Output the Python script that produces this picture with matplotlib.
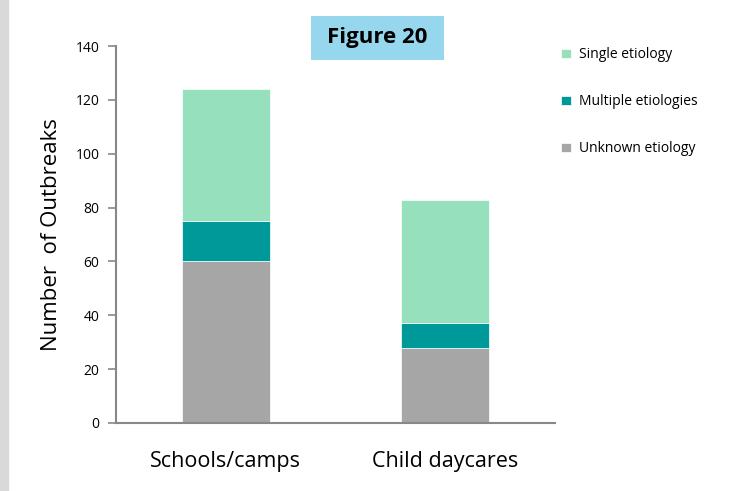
import matplotlib
matplotlib.use("Agg")
import matplotlib.pyplot as plt
from matplotlib.patches import Rectangle

categories = ["Schools/camps", "Child daycares"]
unknown = [60, 28]
multiple = [15, 9]
single = [49, 46]
yticks = [0, 20, 40, 60, 80, 100, 120, 140]

c_single = "#97E0BE"
c_multiple = "#009999"
c_unknown = "#A6A6A6"

plt.rcParams['font.family'] = ['Open Sans', 'DejaVu Sans']

fig = plt.figure(figsize=(7.40, 4.91), dpi=100)
fig.add_artist(Rectangle((0, 0), 8/740, 1, transform=fig.transFigure,
                         color="#D9D9D9", zorder=0))
ax = fig.add_axes([0.157, 0.1385, 0.593, 0.7675])

x = range(len(categories))
bu = ax.bar(x, unknown, width=0.4, color=c_unknown, edgecolor="white", linewidth=0.5, label="Unknown etiology")
bm = ax.bar(x, multiple, width=0.4, bottom=unknown, color=c_multiple, edgecolor="white", linewidth=0.5, label="Multiple etiologies")
bot2 = [a + b for a, b in zip(unknown, multiple)]
bs = ax.bar(x, single, width=0.4, bottom=bot2, color=c_single, edgecolor="white", linewidth=0.5, label="Single etiology")

ax.set_xlim(-0.5, 1.5)
ax.set_ylim(0, 140)
ax.set_yticks(yticks)
ax.set_yticklabels([str(t) for t in yticks], fontsize=10)
ax.set_xticks(list(x))
ax.set_xticklabels(categories, fontsize=15.5)
ax.tick_params(axis='x', length=0, pad=20)
ax.tick_params(axis='y', length=6, width=1.2, color="#888888", pad=6)
for s in ["top", "right"]:
    ax.spines[s].set_visible(False)
for s in ["left", "bottom"]:
    ax.spines[s].set_color("#888888")
    ax.spines[s].set_linewidth(1.5)
ax.set_ylabel("Number  of Outbreaks", fontsize=16, labelpad=10)

leg = ax.legend(handles=[bs, bm, bu], loc="upper left", bbox_to_anchor=(0.985, 1.03),
                frameon=False, fontsize=10, handlelength=0.7, handleheight=0.7,
                labelspacing=2.3, handletextpad=0.6)

fig.add_artist(Rectangle((311/740, 1 - 60/491), 133/740, 44/491,
                         transform=fig.transFigure, facecolor="#97D7EE",
                         edgecolor="none", zorder=1))
fig.text(377.5/740, 1 - 38/491, "Figure 20", ha="center", va="center",
         fontsize=16, fontweight="bold", zorder=2)

fig.savefig("out.png", dpi=100)
